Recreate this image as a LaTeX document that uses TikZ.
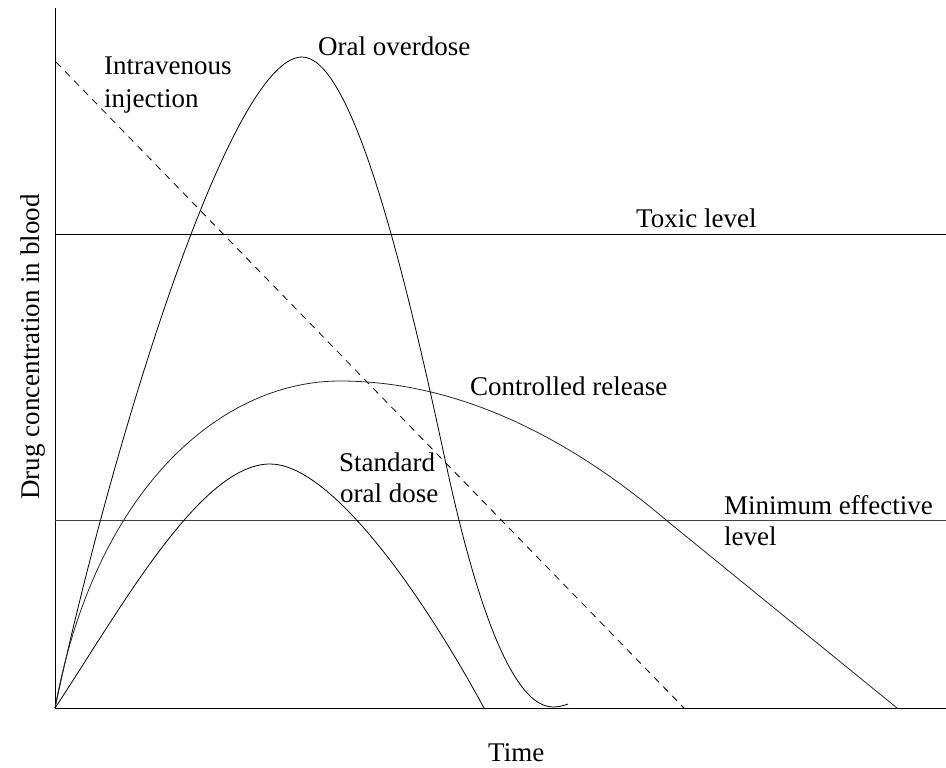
\documentclass[tikz,border=0pt]{standalone}
\usepackage{fontspec}
\setmainfont{Liberation Serif}
\usepackage{tikz}

\begin{document}
\begin{tikzpicture}[x=1pt,y=1pt,yscale=-1,xscale=1,
  lbl/.style={anchor=base west,inner sep=0pt,font=\fontsize{27}{32}\selectfont},
  curve/.style={line width=0.8pt}]
\useasboundingbox (0,0) rectangle (946,768);

%Axes
\coordinate (o) at (55,708);
\coordinate (ytop) at (55,8);
\coordinate (xend) at (946,708);
\draw [line width=0.9pt] (ytop) -- (o) -- (xend);
%Straight Lines (levels)
\draw [line width=0.8pt] (55,234) -- (946,234);
\draw [line width=0.8pt,color=black!75] (55,520) -- (946,520);

%Dashed Line (intravenous)
\draw [line width=0.8pt,dash pattern={on 7pt off 6pt}] (56,62) -- (684,708);

%Curve Lines (oral overdose)
\draw [curve] (o) .. controls (110,450) and (230,57) .. (302,57)
  .. controls (350,57) and (400,250) .. (443,450)
  .. controls (460,530) and (500,707) .. (553,707)
  .. controls (560,707) and (565,705) .. (568,704);
%Curve Lines (controlled release)
\draw [curve,color=black!85] (o) .. controls (95,490) and (220,381) .. (340,381)
  .. controls (450,381) and (560,430) .. (666,520) -- (897,708);
%Curve Lines (standard oral dose)
\draw [curve] (o) .. controls (120,610) and (200,464) .. (270,464)
  .. controls (330,464) and (420,590) .. (484,708);

% Text Node
\node [lbl] (overdose) at (318,56) {Oral overdose};
% Text Node
\node [lbl] (iv) at (104,75) {Intravenous};
\node [lbl] (iv2) at (104,107) {injection};
% Text Node
\node [lbl] (toxic) at (636,227) {Toxic level};
% Text Node
\node [lbl] (cr) at (470,395) {Controlled release};
% Text Node
\node [lbl] (std) at (339,471) {Standard};
\node [lbl] (std2) at (340,502) {oral dose};
% Text Node
\node [lbl] (mel) at (724,514) {Minimum effective};
\node [lbl] (mel2) at (724,545) {level};
% Text Node
\node [lbl] (time) at (488,761) {Time};
% Text Node
\node [lbl,anchor=base,rotate=90] (conc) at (39,347) {Drug concentration in blood};

\end{tikzpicture}
\end{document}
